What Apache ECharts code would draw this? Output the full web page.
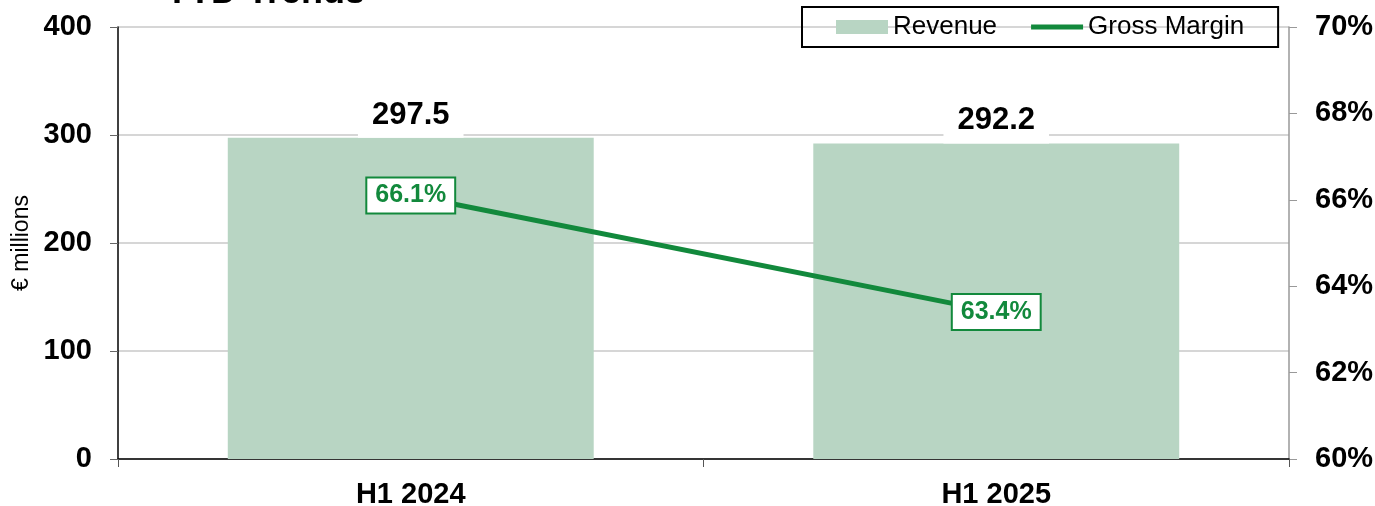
<!DOCTYPE html>
<html>
<head>
<meta charset="utf-8">
<script src="https://cdn.jsdelivr.net/npm/echarts@6/dist/echarts.min.js"></script>
<style>
  html, body { margin: 0; padding: 0; background: #fff; }
  #main { width: 1375px; height: 506px; }
</style>
</head>
<body>
<div id="main"></div>
<script>
// data
const categories = ['H1 2024', 'H1 2025'];
const revenue = [297.5, 292.2];      // € millions
const grossMargin = [66.1, 63.4];    // %

const barColor = '#b8d5c3';
const lineColor = '#12893c';
const font = 'Arial, "Liberation Sans", sans-serif';

const chart = echarts.init(document.getElementById('main'));

var option = {
  animation: false,
  textStyle: { fontFamily: font },
  title: {
    text: 'YTD Trends',
    left: 160,
    top: -30,
    textStyle: { fontSize: 36, fontWeight: 'bold', color: '#000', fontFamily: font }
  },
  legend: {
    left: 802,
    top: 7,
    padding: [7, 34, 7, 34],
    borderColor: '#000',
    borderWidth: 2,
    itemGap: 34,
    itemWidth: 52,
    itemHeight: 14,
    textStyle: { fontSize: 26, color: '#000', fontFamily: font },
    data: [
      { name: 'Revenue', icon: 'rect' },
      // thick line icon for the margin series
      { name: 'Gross Margin', icon: 'path://M0 0H104V10H0Z' }
    ]
  },
  grid: { left: 118, right: 86, top: 27, bottom: 47, outerBoundsMode: 'none' },
  xAxis: {
    type: 'category',
    data: categories,
    axisLine: { lineStyle: { color: '#000', width: 1.5 } },
    axisTick: { show: true, length: 8, lineStyle: { color: '#555' } },
    axisLabel: { fontSize: 29, fontWeight: 'bold', color: '#000', margin: 21, fontFamily: font }
  },
  yAxis: [
    {
      type: 'value',
      min: 0, max: 400, interval: 100,
      name: '€ millions',
      nameLocation: 'middle',
      nameRotate: 90,
      nameGap: 85,
      nameTextStyle: { fontSize: 23, color: '#000', fontFamily: font },
      axisLine: { show: true, lineStyle: { color: '#000', width: 1.5 } },
      axisTick: { show: true, length: 8, lineStyle: { color: '#666' } },
      axisLabel: { fontSize: 29, fontWeight: 'bold', color: '#000', margin: 26, fontFamily: font },
      splitLine: { lineStyle: { color: '#c8c8c8', width: 1.5 } }
    },
    {
      type: 'value',
      min: 60, max: 70, interval: 2,
      position: 'right',
      axisLine: { show: true, lineStyle: { color: '#999', width: 1.5 } },
      axisTick: { show: true, length: 8, lineStyle: { color: '#999' } },
      axisLabel: {
        fontSize: 29, fontWeight: 'bold', color: '#000', margin: 26, fontFamily: font,
        formatter: '{value}%'
      },
      splitLine: { show: false }
    }
  ],
  series: [
    {
      name: 'Revenue',
      type: 'bar',
      data: revenue,
      barWidth: '62.5%',
      itemStyle: { color: barColor },
      label: {
        show: true,
        position: 'top',
        distance: 0,
        formatter: p => p.value.toFixed(1),
        backgroundColor: '#fff',
        padding: [4, 14, 7, 14],
        fontSize: 31,
        fontWeight: 'bold',
        color: '#000',
        fontFamily: font
      }
    },
    {
      name: 'Gross Margin',
      type: 'line',
      yAxisIndex: 1,
      data: grossMargin,
      symbol: 'circle',
      symbolSize: 0.1,
      showSymbol: true,
      lineStyle: { color: lineColor, width: 5 },
      itemStyle: { color: lineColor },
      z: 5,
      label: {
        show: true,
        position: 'inside',
        formatter: p => p.value.toFixed(1) + '%',
        backgroundColor: '#fff',
        borderColor: lineColor,
        borderWidth: 2,
        padding: [5, 8, 4, 8],
        fontSize: 25,
        fontWeight: 'bold',
        color: lineColor,
        fontFamily: font
      }
    }
  ]
};

chart.setOption(option);
</script>
</body>
</html>
